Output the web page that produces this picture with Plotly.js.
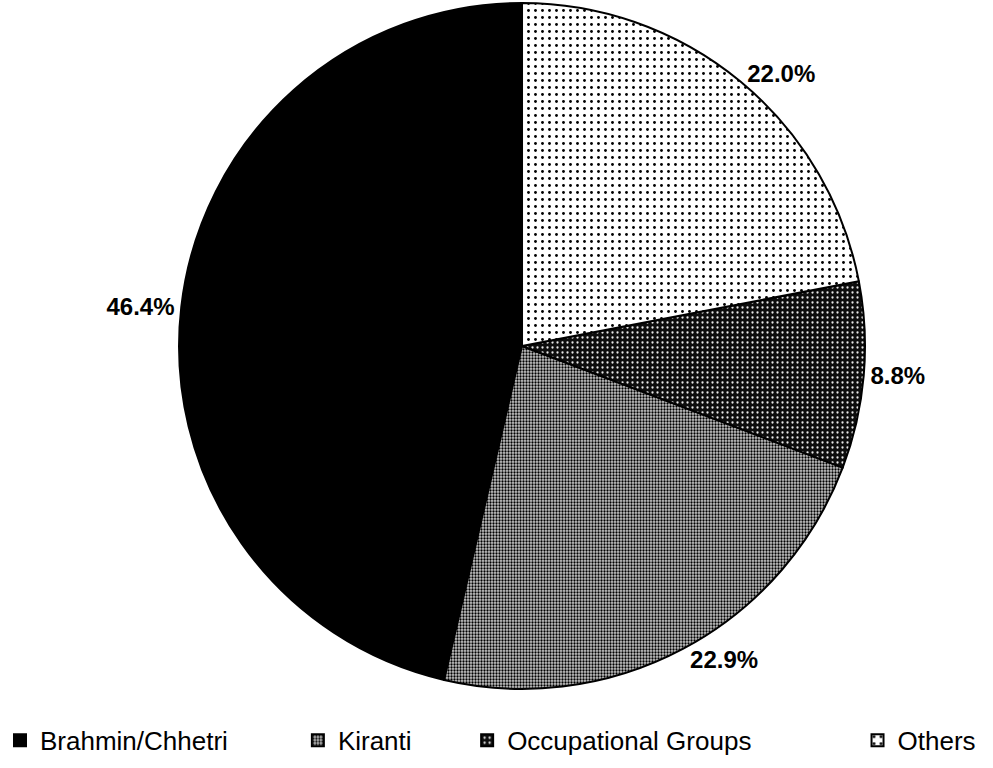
<!DOCTYPE html>
<html>
<head>
<meta charset="utf-8">
<script src="https://cdn.plot.ly/plotly-3.0.1.min.js"></script>
<style>
  html, body { margin: 0; padding: 0; background: #ffffff; }
  #chart { width: 993px; height: 768px; }
</style>
</head>
<body>
<div id="chart"></div>
<script>
// Population share by caste / ethnic group (percent)
const groups = ['Brahmin/Chhetri', 'Kiranti', 'Occupational Groups', 'Others'];
const shares = [46.4, 22.9, 8.8, 22.0];

// Hatch fills for each group, in the same order as the groups
const patternShapes = ['', '.', '.', '.'];
const patternFg = ['#000000', '#000000', '#e8e8e8', '#000000'];
const patternBg = ['#000000', '#c8c8c8', '#0d0d0d', '#ffffff'];
const patternSize = [8, 3, 5, 7];
const patternSolidity = [0.3, 0.45, 0.16, 0.13];

// Non-breaking spaces pad each legend entry so the four keys spread across the row
const pad = n => '\u00a0'.repeat(n);
const legendPad = [9, 7, 14, 0];
const legendLabels = groups.map((g, i) => g + pad(legendPad[i]));

// Slices run counterclockwise; Plotly ends the first slice at `rotation`,
// so turn the pie back by the first slice's angle to start it at 12 o'clock.
const total = shares.reduce((a, b) => a + b, 0);
const startRotation = -shares[0] / total * 360;

const trace = {
  type: 'pie',
  labels: legendLabels,
  values: shares,
  sort: false,
  direction: 'counterclockwise',
  rotation: startRotation,
  domain: { x: [0.1803, 0.8711], y: [0.1029, 0.9961] },
  marker: {
    colors: patternBg,
    line: { color: '#000000', width: 2 },
    pattern: {
      shape: patternShapes,
      fgcolor: patternFg,
      bgcolor: patternBg,
      size: patternSize,
      solidity: patternSolidity,
      fillmode: 'replace'
    }
  },
  texttemplate: '%{value:.1f}%',
  textposition: 'outside',
  outsidetextfont: { family: 'Liberation Sans, Arial, sans-serif', size: 24, color: '#000000', weight: 'bold' },
  hoverinfo: 'label+percent',
  showlegend: true
};

const layout = {
  width: 993,
  height: 768,
  margin: { l: 0, r: 0, t: 0, b: 0 },
  paper_bgcolor: '#ffffff',
  plot_bgcolor: '#ffffff',
  showlegend: true,
  legend: {
    orientation: 'h',
    x: 0,
    xanchor: 'left',
    y: 0.036,
    yanchor: 'middle',
    traceorder: 'normal',
    font: { family: 'Liberation Sans, Arial, sans-serif', size: 26, color: '#000000' },
    bgcolor: 'rgba(0,0,0,0)'
  }
};

Plotly.newPlot('chart', [trace], layout, { displayModeBar: false, staticPlot: true });
</script>
</body>
</html>
